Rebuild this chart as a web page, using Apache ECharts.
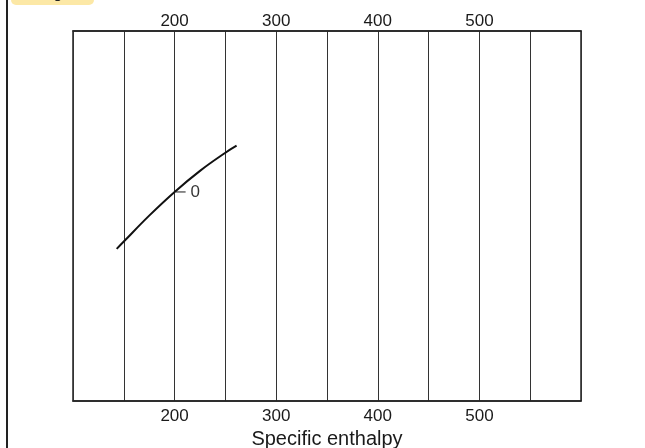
<!DOCTYPE html>
<html><head><meta charset="utf-8">
<script src="https://cdn.jsdelivr.net/npm/echarts@6/dist/echarts.min.js"></script>
<style>html,body{margin:0;padding:0;background:#fff}#c{width:645px;height:448px}</style>
</head><body><div id="c"></div>
<script>
const curveX = [143, 150, 175, 200, 225, 250, 261];
const curveY = [41.1, 43.1, 50.1, 56.5, 62.2, 67.1, 69.0];
const tickLabelValues = [200, 300, 400, 500];
const curveLabel = { x: 200, y: 56.5, text: '0' };
const xTitle = 'Specific enthalpy';

const chart = echarts.init(document.getElementById('c'));
const labelFmt = v => tickLabelValues.includes(v) ? String(v) : '';
const FONT = 'Liberation Sans, Arial, sans-serif';
const axisCommon = {
  type: 'value', min: 100, max: 600, interval: 50,
  axisLine: { show: true, lineStyle: { color: '#222', width: 1.5 } },
  axisTick: { show: false },
  axisLabel: { formatter: labelFmt, color: '#1a1a1a', fontSize: 17, fontFamily: FONT, showMinLabel: false, showMaxLabel: false },
};
chart.setOption({
  animation: false,
  grid: { left: 73, right: 64, top: 31, bottom: 47, show: true, borderColor: '#222', borderWidth: 1.5, outerBoundsMode: 'none', containLabel: false },
  xAxis: [
    Object.assign({}, axisCommon, { position: 'bottom', name: xTitle, nameLocation: 'middle', nameGap: 27,
      axisLabel: Object.assign({}, axisCommon.axisLabel, { margin: 7 }),
      nameTextStyle: { color: '#1a1a1a', fontSize: 20, fontFamily: FONT, verticalAlign: 'top' },
      splitLine: { show: true, lineStyle: { color: '#333', width: 1 } } }),
    Object.assign({}, axisCommon, { position: 'top', splitLine: { show: false },
      axisLabel: Object.assign({}, axisCommon.axisLabel, { margin: 1 }) })
  ],
  yAxis: { type: 'value', min: 0, max: 100, show: false, splitLine: { show: false } },
  graphic: [
    { type: 'line', shape: { x1: 7, y1: 0, x2: 7, y2: 448 }, style: { stroke: '#222', lineWidth: 2 } },
    { type: 'rect', shape: { x: 11, y: -20, width: 83, height: 25, r: 5 }, style: { fill: '#fce8a6' } },
    { type: 'text', x: 40, y: -14, style: { text: 'Fig', fill: '#222', font: '16px Liberation Sans' } }
  ],
  series: [
    { type: 'line', xAxisIndex: 0, data: curveX.map((x, i) => [x, curveY[i]]), smooth: 0.4, showSymbol: false,
      lineStyle: { color: '#111', width: 2 } },
    { type: 'scatter', xAxisIndex: 0, data: [[curveLabel.x, curveLabel.y]],
      symbol: 'path://M0,0 L10,0 L10,1 L0,1 Z', symbolSize: [10, 1.3], symbolOffset: [6, 0],
      itemStyle: { color: '#222' },
      label: { show: true, position: 'right', distance: 5, formatter: curveLabel.text, color: '#000', fontSize: 17, fontFamily: FONT } }
  ]
});
</script></body></html>
